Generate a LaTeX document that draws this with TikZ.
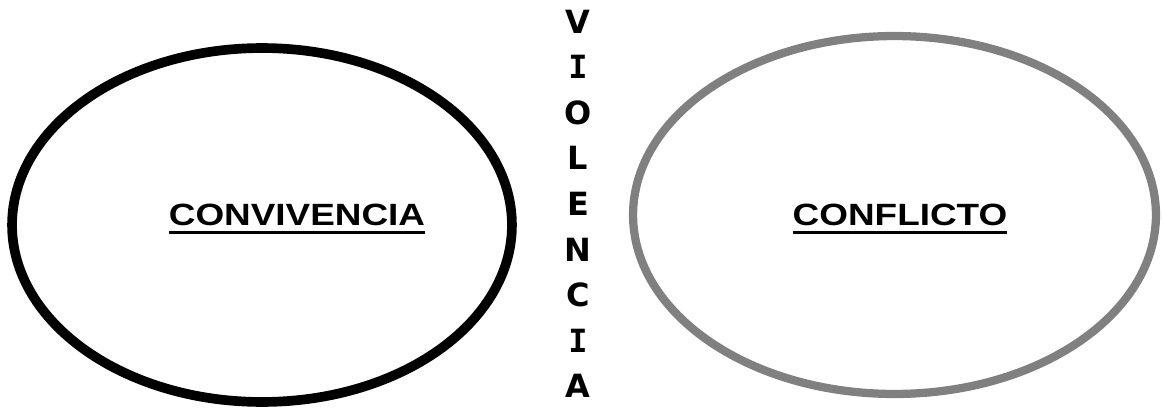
\documentclass[tikz,border=0pt]{standalone}
\usepackage{fontspec}
\setmainfont{Liberation Sans}
\newfontfamily\stackfont{DejaVu Sans}
\newfontfamily\stackmono{DejaVu Sans Mono}
\usetikzlibrary{shapes.geometric}

% bold label with a thick rule under it
\newcommand{\ulbox}[1]{\setbox0\hbox{#1}\copy0\llap{\rule[-4.9pt]{\wd0}{1.7pt}}}
\newcommand{\vI}{{\stackmono I}}

\begin{document}
\begin{tikzpicture}[x=0.02cm, y=-0.02cm]
    \tikzstyle{field} = [ellipse, inner sep=0pt]
    \tikzstyle{label} = [anchor=base, font=\fontsize{17.5}{20}\selectfont\bfseries]
    \tikzstyle{vletter} = [anchor=base, inner sep=0pt, font=\stackfont\fontsize{18.2}{20}\selectfont\bfseries]

    \useasboundingbox (0,0) rectangle (1163,409);

    \node (convfield) [field, draw=black, line width=5.5pt, minimum width=10cm, minimum height=7.08cm] at (262,225) {};
    \node (conffield) [field, draw=black!50, line width=4.7pt, minimum width=10.46cm, minimum height=7.16cm] at (894.5,215) {};

    \node (conv) [label] at (297,225) {\ulbox{\scalebox{1.2}[1]{CONVIVENCIA}}};
    \node (conf) [label] at (900,225) {\ulbox{\scalebox{1.2}[1]{CONFLICTO}}};

    \foreach \ch [count=\i from 0] in {V,\vI,O,L,E,N,C,\vI,A}
        \node (v\i) [vletter] at (578,{33+45.6*\i}) {\ch};
\end{tikzpicture}
\end{document}
